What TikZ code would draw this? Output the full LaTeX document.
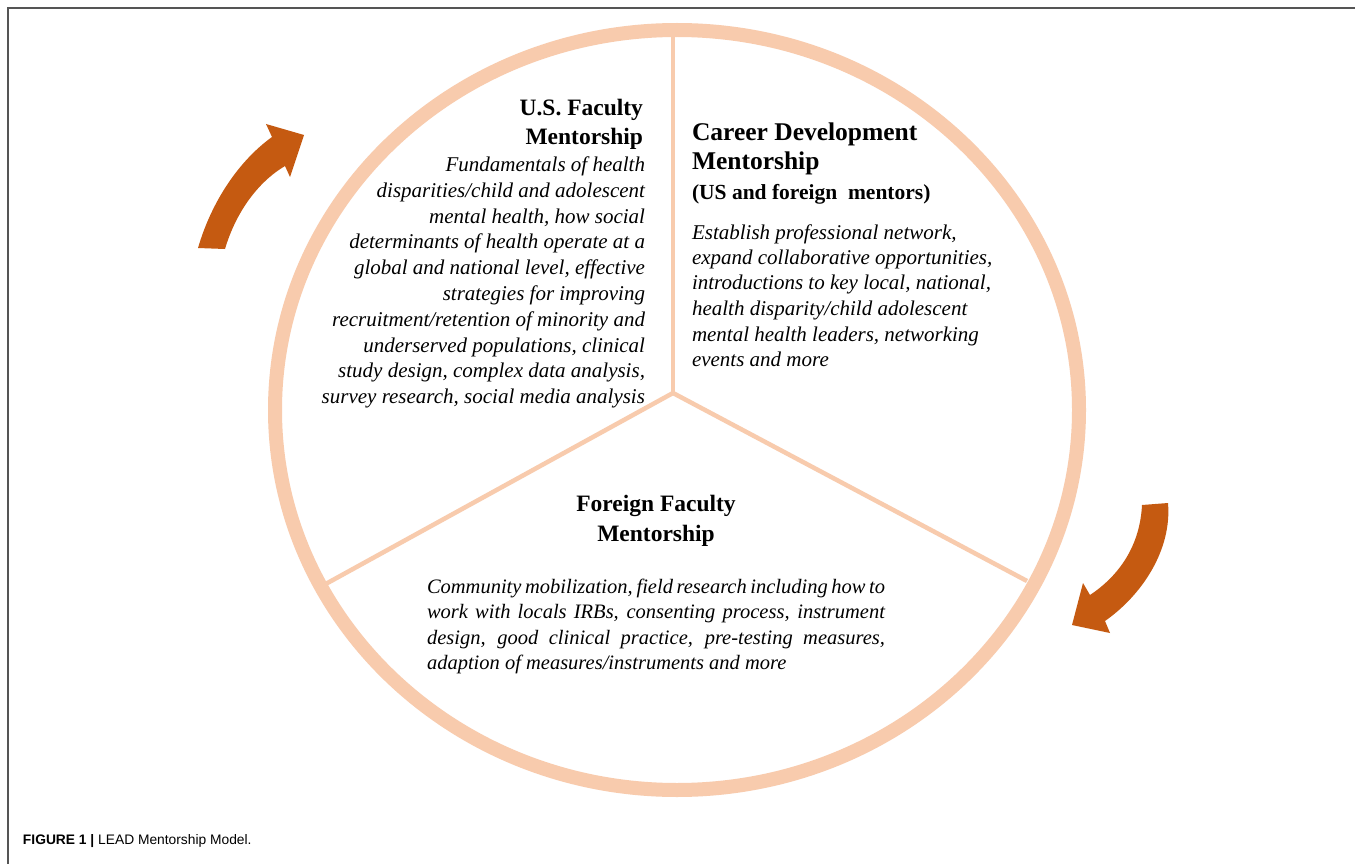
\documentclass[tikz,border=0pt]{standalone}
\usepackage{fontspec}
\setmainfont{Liberation Serif}
\newfontfamily\capfont{Liberation Sans}
\definecolor{ringc}{RGB}{248,203,173}
\definecolor{arrowc}{RGB}{197,90,17}
\definecolor{framec}{RGB}{85,85,85}
\begin{document}
\begin{tikzpicture}[x=1pt,y=-1pt,
  txt/.style={inner sep=0pt, outer sep=0pt},
  spoke/.style={draw=ringc, line width=4.5pt},
  ringline/.style={draw=ringc, line width=14pt},
  bigarrow/.style={fill=arrowc, draw=none}]
\useasboundingbox (0,0) rectangle (1355,864);
\fill[white] (0,0) rectangle (1355,864);
% frame
\draw[framec, line width=1.8pt] (8,864) -- (8,8) -- (1355,8);
% spokes
\coordinate (hub) at (673,393);
\coordinate (topend) at (673,30);
\coordinate (llend) at (322,586);
\coordinate (lrend) at (1027,581);
\draw[spoke] (hub) -- (topend);
\draw[spoke] (hub) -- (llend);
\draw[spoke] (hub) -- (lrend);
% ring
\draw[ringline] (677,410) ellipse [x radius=402pt, y radius=380pt];
% curved arrows
\fill[bigarrow] (198,248) .. controls (212,200) and (240,160) .. (272,137) -- (266,124) -- (304,135) -- (290,177) -- (285,166) .. controls (258,182) and (236,212) .. (225,249) -- cycle;
\fill[bigarrow] (1142,505) -- (1168,503) .. controls (1172,550) and (1142,595) .. (1105,621) -- (1110,633) -- (1072,625) -- (1083,583) -- (1090,595) .. controls (1120,575) and (1140,545) .. (1142,505) -- cycle;
% U.S. Faculty
\node[txt, anchor=base east] (ushead) at (643,116) {\parbox[t]{250pt}{\raggedleft\fontsize{23.5}{29}\selectfont\bfseries U.S. Faculty\\Mentorship}};
\node[txt, anchor=base east] (usbody) at (645,171.5) {\parbox[t]{360pt}{\raggedleft\fontsize{21}{25.8}\selectfont\itshape
Fundamentals of health\\
disparities/child and adolescent\\
mental health, how social\\
determinants of health operate at a\\
global and national level, effective\\
strategies for improving\\
recruitment/retention of minority and\\
underserved populations, clinical\\
study design, complex data analysis,\\
survey research, social media analysis}};
% Career Development
\node[txt, anchor=base west] (cdhead) at (692,141) {\parbox[t]{300pt}{\raggedright\fontsize{25.5}{29}\selectfont\bfseries Career Development\\Mentorship}};
\node[txt, anchor=base west] (cdsub) at (692,199) {\fontsize{21.5}{25}\selectfont\bfseries (US and foreign\ \ mentors)};
\node[txt, anchor=base west] (cdbody) at (692,239) {\parbox[t]{360pt}{\raggedright\fontsize{21}{25.5}\selectfont\itshape
Establish professional network,\\
expand collaborative opportunities,\\
introductions to key local, national,\\
health disparity/child adolescent\\
mental health leaders, networking\\
events and more}};
% Foreign Faculty
\node[txt, anchor=base] (ffhead) at (656,511) {\parbox[t]{300pt}{\centering\fontsize{23.5}{30}\selectfont\bfseries Foreign Faculty\\Mentorship}};
\node[txt, anchor=base west] (ffbody) at (427,593) {\parbox[t]{458pt}{\fontsize{20.5}{25.5}\selectfont\itshape\parindent=0pt
Community mobilization, field research including how to\linebreak
work with locals IRBs, consenting process, instrument\linebreak
design, good clinical practice, pre-testing measures,\linebreak
adaption of measures/instruments and more}};
% caption
\node[txt, anchor=base west] (caption) at (23,844) {\capfont\fontsize{13.8}{17}\selectfont\textbf{FIGURE 1 |} LEAD Mentorship Model.};
\end{tikzpicture}
\end{document}
